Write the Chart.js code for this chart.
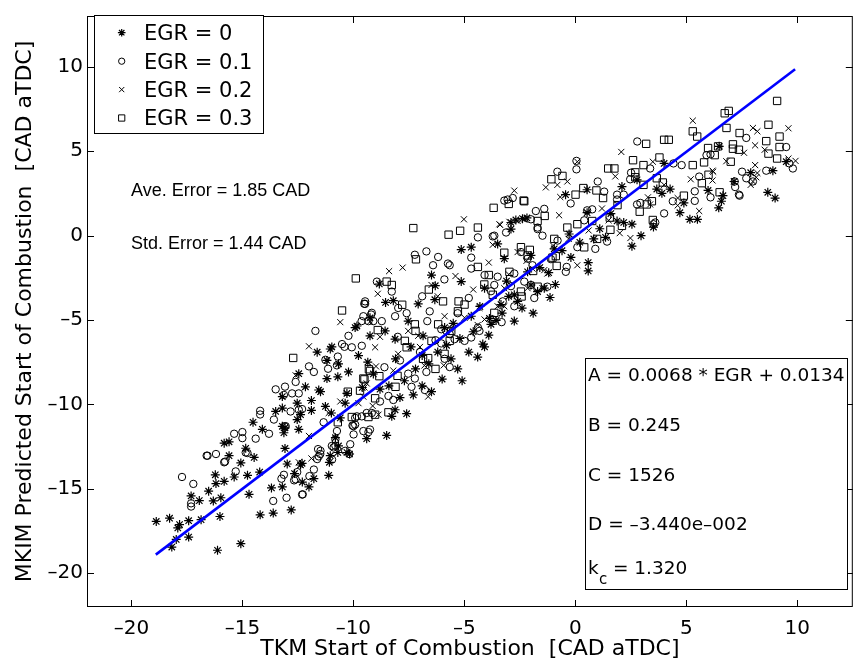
<!DOCTYPE html>
<html>
<head>
<meta charset="utf-8">
<script src="https://cdn.jsdelivr.net/npm/chart.js@4.4.0/dist/chart.umd.min.js"></script>
<style>
  html, body { margin: 0; padding: 0; background: #fff; }
  #wrap { width: 859px; height: 667px; }
</style>
</head>
<body>
<div id="wrap"><canvas id="chart" width="859" height="667"></canvas></div>
<script>
// tick labels
const xTicks = [-20, -15, -10, -5, 0, 5, 10];
const yTicks = [-20, -15, -10, -5, 0, 5, 10];

const seriesNames = ['EGR = 0', 'EGR = 0.1', 'EGR = 0.2', 'EGR = 0.3'];

// EGR = 0  (asterisks)  [TKM, MKIM]
const egr0 = [
  [-18.88,-16.93],[-18.28,-16.74],[-17.83,-17.12],[-17.91,-17.32],[-17.42,-16.89],[-17.42,-17.86],[-16.86,-16.83],[-18.18,-18.45],[-17.98,-18.0],[-16.12,-18.64],
  [-15.07,-18.25],[-16.01,-16.64],[-16.31,-15.72],[-15.97,-15.53],[-16.52,-15.14],[-16.19,-14.69],[-15.82,-14.56],[-15.37,-14.3],[-14.77,-14.2],[-14.7,-15.33],
  [-14.22,-14.01],[-17.31,-15.42],[-16.94,-15.7],[-15.82,-12.3],[-15.6,-12.22],[-15.6,-13.04],[-15.07,-13.47],[-14.85,-12.6],[-14.47,-13.14],[-14.1,-11.48],
  [-13.69,-14.95],[-14.2,-16.54],[-13.61,-16.44],[-12.8,-16.25],[-13.2,-14.89],[-12.0,-14.89],[-11.78,-14.4],[-12.3,-14.6],[-12.65,-14.1],[-11.11,-14.2],
  [-11.04,-13.04],[-13.2,-11.3],[-12.46,-11.48],[-14.52,-11.06],[-13.5,-10.42],[-13.2,-10.22],[-12.53,-9.93],[-11.89,-9.77],[-11.89,-10.36],[-13.08,-11.39],
  [-13.08,-12.61],[-12.98,-13.53],[-12.38,-13.59],[-11.08,-13.43],[-16.22,-14.17],
  [-11.63,-6.91],[-11.04,-6.72],[-11.19,-7.4],[-10.67,-7.6],[-10.22,-8.08],[-9.84,-5.36],[-9.77,-7.11],[-9.35,-7.5],[-9.25,-5.94],[-12.31,-13.49],
  [-10.7,-12.85],[-10.29,-12.85],[-10.67,-12.46],[-10.81,-11.97],[-10.17,-12.94],[-9.4,-12.03],[-8.5,-11.84],[-7.6,-10.55],[-6.48,-9.25],[-7.3,-9.44],
  [-8.12,-10.32],[-8.27,-10.71],[-13.2,-9.54],[-11.26,-10.12],[-11.48,-9.25],[-12.53,-10.9],[-12.38,-10.61],[-13.13,-11.68],[-8.83,-2.87],[-8.55,-3.96],
  [-8.2,-3.86],[-7.08,-4.05],[-6.33,-3.8],[-6.31,-2.97],[-6.48,-2.34],[-5.14,-2.73],[-4.69,-0.69],[-5.14,-0.83],[-10.97,-6.6],[-12.46,-8.18],
  [-12.16,-8.96],[-11.56,-9.15],[-11.19,-8.47],[-10.7,-8.37],[-10.29,-9.35],[-10.37,-9.93],[-10.99,-10.51],[-10.59,-10.8],[-4.17,-6.43],[-2.75,-5.07],
  [-3.8,-5.26],[-3.87,-4.91],[-3.57,-5.03],[-9.92,-5.45],[-9.25,-4.87],[-8.57,-5.65],[-8.12,-6.14],[-7.53,-5.07],[-6.86,-5.94],[-5.89,-5.45],
  [-4.69,-4.78],[-3.35,-4.09],[-4.09,-3.12],[-2.75,-3.51],[-2.0,-2.93],[-3.2,-1.37],[-2.0,-1.18],[-1.4,-3.12],[-3.5,-0.5],[-2.9,0.38],
  [-2.9,0.77],[-2.68,0.92],[-2.38,1.0],[-2.18,1.04],[-0.44,2.42],[0.53,2.71],[-1.14,-3.67],[0.58,-1.6],[0.58,-2.1],[-4.09,-6.59],
  [2.96,-0.01],[2.55,-0.63],[0.53,1.35],[0.83,-0.2],[-0.28,0.09],[-0.95,-0.79],[-2.15,-2.15],[-1.7,-3.32],[1.88,0.86],[1.36,-0.11],
  [2.18,0.77],[2.55,0.67],[3.67,2.75],[4.27,2.75],[3.9,2.5],[7.9,3.72],[8.9,3.84],[9.5,4.37],[7.15,3.2],[8.67,2.56],
  [9.0,2.22],[5.98,2.67],[6.65,2.36],[6.58,2.03],[6.46,1.64],[5.16,0.96],[5.5,0.96],[4.71,1.35],[4.89,1.93],[3.52,0.5],
  [6.48,5.28],[4.0,4.27],[2.78,3.3],[2.1,2.9],[-6.0,-8.5],[-5.3,-7.9],[-4.8,-6.9],[-5.6,-7.3],[-6.9,-8.9],[-7.9,-9.6],
  [-5.1,-8.6],[-4.4,-7.2],[-1.9,-4.6],[-0.9,-2.9],[-3.0,-3.6],[-2.4,-4.3],[-0.2,-1.3],
  [-8.8,-9.1],[-8.4,-8.9],[-7.7,-8.6],[-7.2,-7.9],[-6.6,-7.6],[-6.2,-6.9],[-5.8,-6.5],[-5.2,-6.1],[-4.6,-5.7],[-3.9,-5.9],
  [-3.3,-4.6],[-2.6,-3.9],[-7.4,-6.6],[-8.1,-7.3],[-9.1,-8.2],[-9.6,-9.0],[-6.9,-7.1],[-5.5,-5.2],[-4.3,-4.2],[-3.1,-2.7],
  [-1.6,-1.9],[-0.6,-0.9],[0.2,-0.4],[1.1,0.4],[1.6,1.3],[-1.2,-2.2]
];

// EGR = 0.1  (circles)
const egr1 = [
  [-17.72,-14.3],[-17.21,-14.71],[-17.31,-15.86],[-17.31,-16.05],[-16.61,-13.04],[-16.19,-12.94],[-15.78,-13.39],[-15.37,-11.74],[-15.0,-11.64],[-15.3,-13.97],
  [-14.85,-12.85],[-14.4,-12.03],[-13.61,-15.72],[-13.01,-15.53],[-13.24,-14.4],[-13.13,-14.17],[-12.28,-15.33],[-12.67,-14.5],[-12.53,-14.01],[-11.63,-13.24],
  [-11.49,-12.94],[-10.81,-12.45],[-10.81,-12.07],[-13.8,-11.74],[-13.1,-11.3],[-12.0,-7.75],[-12.6,-8.67],[-13.08,-8.95],[-13.5,-9.11],[-14.2,-10.38],
  [-14.2,-10.6],[-15.0,-12.0],[-16.57,-13.04],[-15.82,-13.43],[-14.77,-12.88],[-11.59,-12.65],[-10.97,-12.46],[-10.37,-12.75],[-10.0,-11.29],[-9.25,-11.49],
  [-11.71,-5.65],[-11.26,-7.36],[-10.7,-7.17],[-10.4,-6.59],[-10.22,-5.94],[-9.55,-4.78],[-9.63,-5.07],[-9.2,-4.68],[-9.62,-6.53],[-9.47,-4.05],
  [-11.78,-8.08],[-12.76,-9.35],[-12.31,-10.28],[-12.83,-10.42],[-13.58,-10.9],[-12.31,-15.34],[-12.6,-14.44],[-11.98,-14.25],[-11.78,-13.86],[-10.96,-13.27],
  [-11.56,-13.08],[-11.48,-12.75],[-10.89,-12.55],[-10.74,-11.58],[-10.14,-12.36],[-9.99,-11.78],[-10.19,-12.94],[-9.32,-11.64],[-9.92,-11.2],[-9.84,-10.71],
  [-9.4,-10.51],[-9.17,-10.51],[-6.78,-9.15],[-7.38,-8.96],[-8.42,-9.5],[-8.8,-9.83],[-8.2,-9.74],[-13.13,-9.44],[-12.46,-10.32],[-13.05,-11.29],
  [-11.34,-11.06],[-7.23,-1.14],[-6.71,-0.94],[-6.41,-1.76],[-4.69,-1.31],[-5.74,-1.66],[-4.39,-0.11],[-3.65,-0.01],[-9.51,-4.04],[-9.17,-4.58],
  [-8.72,-5.07],[-9.1,-5.07],[-10.07,-6.62],[-10.51,-6.43],[-10.74,-7.69],[-11.14,-7.89],[-12.46,-9.35],[-9.92,-10.8],[-9.62,-10.71],[-10.04,-11.25],
  [-9.55,-11.58],[-7.53,-8.18],[-7.23,-8.47],[-6.71,-8.08],[-5.81,-5.65],[-5.66,-5.84],[-5.89,-7.3],[-5.66,-7.79],[-6.67,-5.07],[-6.56,-4.49],
  [-6.04,-5.55],[-4.39,-5.45],[-4.32,-5.65],[-4.69,-6.04],[-4.99,-6.24],[-5.44,-6.14],[-6.04,-6.39],[-3.65,-2.93],[-3.5,-2.44],[-2.3,-2.73],
  [-1.85,-3.7],[-1.93,-1.76],[-2.75,-2.25],[-3.12,0.18],[-1.48,-0.01],[-1.7,0.38],[-1.78,1.45],[-2.0,0.96],[-3.05,2.13],[-2.82,2.22],
  [-6.18,-1.27],[-5.66,-1.76],[-4.69,-1.96],[-4.09,-2.34],[-8.12,-4.78],[-7.98,-4.29],[-9.32,-5.07],[-8.27,-3.32],[-8.94,-2.73],[-9.47,-3.9],
  [-3.72,-0.05],[-3.2,2.07],[-0.81,3.78],[0.05,3.92],[0.05,4.42],[-1.4,1.58],[-1.7,0.47],[0.76,1.55],[0.53,1.49],[1.88,2.13],
  [2.18,2.42],[2.47,3.33],[-0.39,-1.86],[-0.43,-2.15],[-3.32,-5.13],[-3.72,-4.97],[-3.27,-3.9],[-2.75,-4.19],[-2.0,-2.93],[-1.26,-3.03],
  [0.9,-0.79],[1.43,-0.36],[0.09,-0.69],[-2.15,-1.37],[-2.45,-0.98],[7.7,5.78],[9.5,5.24],[9.64,4.27],[9.8,3.97],[8.6,3.84],
  [7.18,3.2],[7.2,2.87],[7.4,2.36],[5.38,2.05],[4.39,2.03],[4.0,1.31],[3.52,0.67],[3.6,0.77],[3.37,3.97],[2.79,5.57],
  [5.91,4.76],[6.09,4.81],[5.58,3.49],[5.38,2.62],[6.09,2.26],[7.37,2.42],[7.7,3.39],[8.0,3.2],[7.51,3.78],[2.93,1.93],
  [2.78,1.84],[2.51,3.72],[4.42,4.27],[4.79,4.17],[1.01,3.2],[1.88,2.42],[-0.21,1.9],
  [-8.6,-7.8],[-7.9,-7.4],[-7.0,-6.9],[-6.3,-6.2],[-5.3,-4.6],[-4.8,-3.7],[-3.8,-3.3],[-2.9,-3.0],[-8.0,-6.0],[-7.6,-4.6],
  [-6.9,-3.6],[-5.9,-2.6],[-0.8,-0.3],[0.4,0.9],[1.3,2.6],[-1.1,-1.4]
];

// EGR = 0.2  (crosses)
const egr2 = [
  [5.29,6.8],[8.0,6.37],[8.2,6.17],[9.6,6.35],[8.1,5.34],[8.53,5.08],[9.6,4.56],[9.92,4.42],[8.1,4.17],[8.2,3.7],
  [8.0,3.2],[6.18,3.84],[6.18,3.26],[5.58,1.45],[2.48,-0.15],[3.49,4.37],[2.07,4.95],[0.09,4.37],[4.61,2.22],[4.61,1.78],
  [3.27,2.26],[5.2,3.33],[0.09,-1.76],[-0.36,3.2],[6.21,3.78],[8.15,3.45],[7.9,3.0],[-3.39,0.63],[-3.72,-0.55],[-2.75,2.66],
  [-0.68,2.28],[-0.81,3.0],[-1.33,2.85],[2.0,0.14],[-2.6,0.86],[-2.3,0.96],[-0.73,1.2],[3.37,1.84],[-1.4,-2.05],[-1.26,-2.25],
  [-3.2,-3.12],[-3.5,-4.19],[-3.2,-4.19],[-2.6,-0.98],[-1.93,-1.96],[-5.02,0.96],[-7.78,-1.9],[-8.39,-2.11],[-8.9,-3.45],[-10.59,-5.13],
  [-12.0,-6.56],[-3.42,0.67],[-2.97,0.81],[-8.98,-7.75],[-6.63,-9.54],[-5.93,-7.69],[-11.11,-10.51],[-6.48,-2.93],[-5.89,-4.78],[-4.99,-4.87],
  [-4.32,-4.29],[-4.09,-4.97],[-2.15,-3.12],[-1.48,-3.12],[-7.08,-5.94],[-7.53,-5.65],[-7.98,-7.01],[-9.02,-6.62],[-10.59,-9.83],[-9.77,-9.93],
  [-9.55,-9.54],[-9.13,-10.09],[-8.87,-10.61],[-8.8,-6.0],[-9.25,-5.1],[-9.4,-8.76],[-12.6,-8.28],[-9.5,-9.0],[-11.89,-13.2],[-12.46,-13.43],
  [-12.0,-11.87],[-6.2,-3.6],[-5.4,-2.4],[-7.0,-6.6],[-4.6,-3.2],[-3.9,-1.6],[-1.0,-0.6],[0.6,0.3],[1.2,1.6],[4.0,3.0],
  [6.8,4.4],[7.6,4.9],[1.8,3.5],
  [-8.2,-8.0],[-6.8,-7.7],[-5.6,-5.5],[-4.4,-5.3],[-3.0,-2.3],[-2.2,-1.5],[-0.3,-0.2],[1.5,0.9]
];

// EGR = 0.3  (squares)
const egr3 = [
  [9.09,7.97],[6.73,7.24],[6.91,7.38],[5.29,6.17],[5.49,5.86],[6.81,6.37],[8.7,6.56],[7.4,6.07],[8.6,5.59],[9.2,5.86],
  [9.2,5.24],[8.7,4.85],[9.09,4.56],[7.1,5.4],[7.1,5.14],[7.37,5.08],[7.0,4.37],[5.98,5.18],[6.28,4.76],[6.43,5.28],
  [5.29,4.17],[5.8,4.33],[6.0,3.6],[5.7,3.1],[6.5,2.56],[4.89,2.36],[3.49,0.92],[2.9,1.41],[3.22,1.84],[3.45,2.03],
  [3.79,4.62],[3.07,4.17],[2.7,3.74],[2.7,3.45],[2.6,4.46],[4.0,5.67],[4.21,5.67],[3.19,5.43],[1.48,3.97],[1.76,3.97],
  [-0.58,3.53],[-3.68,1.64],[-1.08,3.33],[0.01,2.42],[0.36,2.81],[1.25,2.22],[0.95,2.67],[1.55,1.06],[1.58,0.34],[3.07,3.0],
  [3.67,3.39],[3.94,3.14],[-2.33,2.07],[-3.0,1.87],[-1.7,0.86],[-1.38,1.16],[-0.84,-1.8],[-1.03,-1.31],[-0.88,-1.22],[2.1,0.57],
  [-2.45,-0.69],[-2.15,-1.18],[-2.97,-2.15],[-2.45,-3.32],[-0.95,-0.2],[-0.36,0.47],[0.09,0.67],[0.76,0.86],[0.98,-0.2],[-4.39,0.47],
  [-4.39,-1.86],[-7.3,0.44],[-7.18,-1.41],[-5.71,0.05],[-5.19,0.28],[-2.3,2.03],[-9.89,-2.54],[-8.5,-2.73],[-8.27,-2.93],[-10.51,-4.44],
  [-9.3,-7.92],[-8.83,-8.33],[-8.01,-8.31],[-8.1,-8.96],[-8.42,-10.47],[-9.32,-10.75],[-9.55,-8.47],[-6.86,-7.3],[-6.63,-7.26],[-7.23,-5.26],
  [-7.2,-5.65],[-7.6,-6.62],[-5.89,-7.01],[-5.66,-6.24],[-7.68,-6.24],[-3.9,-2.34],[-3.2,-1.02],[-2.42,-3.61],[-1.7,-3.03],[-2.05,-0.85],
  [-6.48,-6.24],[-5.59,-5.65],[-5.29,-4.49],[-6.18,-5.26],[-5.96,-3.9],[-5.26,-3.9],[-3.65,-4.58],[-3.72,-3.51],[-4.99,-4.09],[-12.71,-7.25],
  [-9.5,-8.52],[-9.25,-8.02],[-9.02,-10.61],[-9.7,-9.19],[-10.07,-10.75],[-10.25,-9.25],[-9.02,-9.64],[-10.7,-11.06],
  [-8.9,-5.6],[-7.8,-4.1],[-6.6,-3.2],[-4.1,-2.9],[-1.9,-2.1],[0.4,-0.7],[1.9,1.8],[-6.3,-7.9]
];

// fitted line (TKM vs MKIM)
const fitX = [-18.9, 9.9];
const fitY = [-18.9, 9.85];

const statLines = ['Ave. Error = 1.85 CAD', 'Std. Error = 1.44 CAD'];
const coefLines = ['A = 0.0068 * EGR + 0.0134', 'B = 0.245', 'C = 1526', 'D = \u20133.440e\u2013002'];
const kcText = ' = 1.320';

const markerStyles = ['star', 'circle', 'crossRot', 'rect'];
const markerRadii = [4.5, 3.7, 4.3, 5.2];
const markerWidths = [1.2, 1, 1, 1];

const toPts = arr => arr.map(([x, y]) => ({ x, y }));
const fmt = v => (v < 0 ? '\u2013' + Math.abs(v) : String(v));

function drawMarker(ctx, style, x, y, r) {
  ctx.beginPath();
  if (style === 'circle') {
    ctx.arc(x, y, r, 0, Math.PI * 2);
  } else if (style === 'rect') {
    const s = r * Math.SQRT1_2;
    ctx.rect(x - s, y - s, 2 * s, 2 * s);
  } else {
    const s = r * Math.SQRT1_2;
    ctx.moveTo(x - s, y - s); ctx.lineTo(x + s, y + s);
    ctx.moveTo(x - s, y + s); ctx.lineTo(x + s, y - s);
    if (style === 'star') {
      ctx.moveTo(x - r, y); ctx.lineTo(x + r, y);
      ctx.moveTo(x, y - r); ctx.lineTo(x, y + r);
    }
  }
  ctx.stroke();
}

// frame, inward ticks, legend and text boxes
const decorPlugin = {
  id: 'decor',
  afterDraw(chart) {
    const { ctx, chartArea: a, scales: { x, y } } = chart;
    ctx.save();
    ctx.strokeStyle = '#000';
    ctx.lineWidth = 1;
    ctx.strokeRect(a.left + 0.5, a.top + 0.5, a.right - a.left - 1, a.bottom - a.top - 1);

    const tl = 7;
    ctx.beginPath();
    xTicks.forEach(v => {
      const px = Math.round(x.getPixelForValue(v)) + 0.5;
      ctx.moveTo(px, a.bottom); ctx.lineTo(px, a.bottom - tl);
      ctx.moveTo(px, a.top); ctx.lineTo(px, a.top + tl);
    });
    yTicks.forEach(v => {
      const py = Math.round(y.getPixelForValue(v)) + 0.5;
      ctx.moveTo(a.left, py); ctx.lineTo(a.left + tl, py);
      ctx.moveTo(a.right, py); ctx.lineTo(a.right - tl, py);
    });
    ctx.stroke();

    // legend
    ctx.fillStyle = '#fff';
    ctx.fillRect(94.5, 15.5, 169, 118);
    ctx.strokeRect(94.5, 15.5, 169, 118);
    const rowY = [32.7, 61.2, 89.6, 118];
    const baseY = [40, 68.5, 97, 125.3];
    ctx.fillStyle = '#000';
    ctx.font = '21px "DejaVu Sans"';
    ctx.textBaseline = 'alphabetic';
    ctx.textAlign = 'left';
    seriesNames.forEach((name, i) => {
      ctx.lineWidth = markerWidths[i];
      drawMarker(ctx, markerStyles[i], 121.7, rowY[i], markerRadii[i] * 0.85);
      ctx.fillText(name, 144, baseY[i]);
    });
    ctx.lineWidth = 1;

    // error annotations
    ctx.font = '18px "Liberation Sans"';
    ctx.fillText(statLines[0], 131, 196);
    ctx.fillText(statLines[1], 131, 249);

    // coefficient box
    ctx.fillStyle = '#fff';
    ctx.fillRect(585.5, 358.5, 262, 231);
    ctx.strokeRect(585.5, 358.5, 262, 231);
    ctx.fillStyle = '#000';
    ctx.font = '18.5px "DejaVu Sans"';
    const coefBase = [381, 431, 481, 530];
    coefLines.forEach((t, i) => ctx.fillText(t, 588, coefBase[i]));
    ctx.fillText('k', 588, 573.5);
    ctx.font = '15px "DejaVu Sans"';
    ctx.fillText('c', 599, 584);
    ctx.font = '18.5px "DejaVu Sans"';
    ctx.fillText(kcText, 607, 573.5);
    ctx.restore();
  }
};

const tickFont = { family: 'DejaVu Sans', size: 20 };
const titleFont = { family: 'DejaVu Sans', size: 22 };

const datasets = [
  {
    label: 'fit',
    type: 'line',
    data: fitX.map((v, i) => ({ x: v, y: fitY[i] })),
    borderColor: '#0000ff',
    borderWidth: 2.6,
    pointRadius: 0,
    fill: false,
    order: 0
  }
];
[egr0, egr1, egr2, egr3].forEach((arr, i) => {
  datasets.push({
    label: seriesNames[i],
    data: toPts(arr),
    pointStyle: markerStyles[i],
    pointRadius: markerRadii[i],
    borderColor: '#000',
    backgroundColor: 'rgba(0,0,0,0)',
    borderWidth: markerWidths[i],
    order: 1
  });
});

new Chart(document.getElementById('chart'), {
  type: 'scatter',
  data: { datasets },
  options: {
    responsive: false,
    animation: false,
    events: [],
    layout: { padding: { top: 7, right: 2, left: 0, bottom: 0 } },
    plugins: { legend: { display: false }, tooltip: { enabled: false } },
    scales: {
      x: {
        type: 'linear',
        min: -22,
        max: 12.5,
        grid: { display: false, drawTicks: false },
        border: { display: false },
        afterBuildTicks: s => { s.ticks = xTicks.map(v => ({ value: v })); },
        afterFit: s => { s.height = 60; },
        ticks: { autoSkip: false, maxRotation: 0, padding: 10, color: '#000', font: tickFont, callback: v => fmt(v) },
        title: {
          display: true,
          text: 'TKM Start of Combustion  [CAD aTDC]',
          color: '#000',
          font: titleFont,
          padding: { top: 0, bottom: 5 }
        }
      },
      y: {
        type: 'linear',
        min: -22,
        max: 13,
        grid: { display: false, drawTicks: false },
        border: { display: false },
        afterBuildTicks: s => { s.ticks = yTicks.map(v => ({ value: v })); },
        afterFit: s => { s.width = 87; },
        ticks: { autoSkip: false, padding: 4, color: '#000', font: tickFont, callback: v => fmt(v) },
        title: {
          display: true,
          text: 'MKIM Predicted Start of Combustion  [CAD aTDC]',
          color: '#000',
          font: titleFont,
          padding: { top: 12, bottom: 0 }
        }
      }
    }
  },
  plugins: [decorPlugin]
});
</script>
</body>
</html>
